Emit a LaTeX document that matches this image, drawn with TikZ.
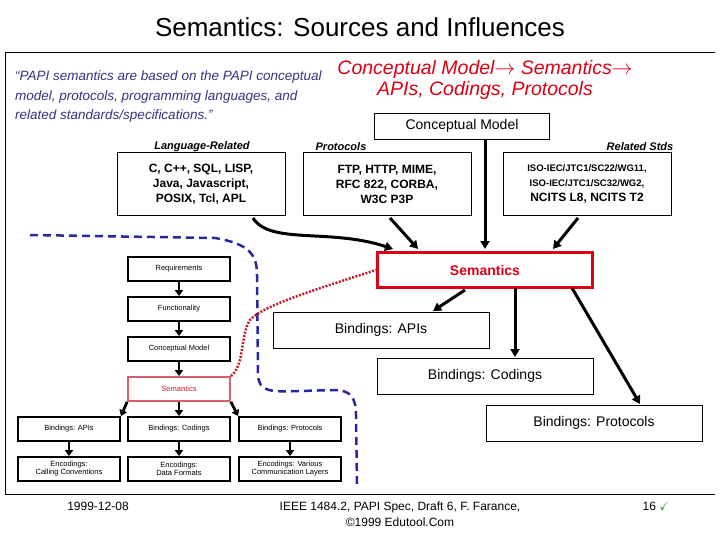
\documentclass[tikz,border=0pt]{standalone}
\usepackage{fontspec}
\setmainfont{Liberation Sans}
\usepackage{amssymb}
\usepackage{xcolor}
\usetikzlibrary{arrows.meta, positioning}
\definecolor{quoteblue}{RGB}{51,51,128}
\definecolor{semred}{RGB}{220,0,20}
\definecolor{dotred}{RGB}{190,30,45}
\definecolor{dashblue}{RGB}{40,40,160}
\definecolor{tickgreen}{RGB}{0,150,0}
\tikzset{
  mini/.style={draw, line width=1.8pt, minimum width=102pt, minimum height=24pt, inner sep=1pt, align=center, font=\fontsize{7.5}{8}\selectfont},
  bind/.style={draw, line width=0.8pt, minimum width=216pt, minimum height=36pt, font=\fontsize{14}{16}\selectfont},
  src/.style={draw, line width=0.8pt, minimum width=168pt, minimum height=63pt, align=center, font=\bfseries\fontsize{12}{15}\selectfont},
  hd/.style={font=\bfseries\itshape\fontsize{11}{12}\selectfont},
  bigarr/.style={-{Triangle[length=8pt,width=9pt]}, line width=3pt},
  smallarr/.style={-{Triangle[length=6pt,width=8pt]}, line width=2.8pt}
}
\begin{document}
\begin{tikzpicture}[x=1pt, y=-1pt]
\useasboundingbox (0,0) rectangle (720,540);
% frame
\draw[line width=0.8pt] (715,52) -- (5,52) -- (5,494) -- (715,494);
\node (title) at (360,27) {\fontsize{26}{28}\selectfont Semantics: Sources and Influences};
\node[anchor=north west, align=left, text=quoteblue, font=\itshape\fontsize{13.5}{19.5}\selectfont, inner sep=0pt] (quote) at (15,71)
  {``PAPI semantics are based on the PAPI conceptual\\model, protocols, programming languages, and\\related standards/specifications.''};
\node[text=semred, align=center, font=\itshape\fontsize{19.5}{21}\selectfont, inner sep=0pt] (chain) at (485,80)
  {Conceptual Model$\rightarrow$ Semantics$\rightarrow$\\APIs, Codings, Protocols};

% sources
\node[draw, line width=0.8pt, fill=white, minimum width=175pt, minimum height=26pt, font=\fontsize{14}{16}\selectfont] (cm) at (462,126) {Conceptual Model};
\node[hd] (hlang) at (202,147) {Language-Related};
\node[hd] (hproto) at (341,147) {Protocols};
\node[hd] (hstds) at (640,147) {Related Stds};
\node[src] (lang) at (201,184) {C, C++, SQL, LISP,\\Java, Javascript,\\POSIX, Tcl, APL};
\node[src] (proto) at (387,184) {FTP, HTTP, MIME,\\RFC 822, CORBA,\\W3C P3P};
\node[src, font=\bfseries\fontsize{9.5}{15}\selectfont] (stds) at (587,184) {ISO-IEC/JTC1/SC22/WG11,\\ISO-IEC/JTC1/SC32/WG2,\\{\fontsize{12}{15}\selectfont NCITS L8, NCITS T2}};

% semantics and bindings
\node[draw=semred, line width=3pt, minimum width=215pt, minimum height=35pt, text=semred, font=\bfseries\fontsize{14}{16}\selectfont] (sem) at (485,270) {Semantics};
\node[bind] (bapi) at (381,330) {Bindings: APIs};
\node[bind] (bcod) at (485,376) {Bindings: Codings};
\node[bind] (bpro) at (594,423) {Bindings: Protocols};

\draw[bigarr] (253,218) .. controls (270,245) and (330,228) .. (393,249);
\draw[bigarr] (390,218) -- (418,249);
\draw[bigarr] (485,139) -- (485,249);
\draw[bigarr] (578,218) -- (553,249);
\draw[bigarr] (465,290) -- (433,311);
\draw[bigarr] (515,288) -- (515,357);
\draw[bigarr] (572,288) -- (640,404);

% mini chain
\node[mini] (req) at (179,269) {Requirements};
\node[mini] (func) at (179,309) {Functionality};
\node[mini] (mcm) at (179,349) {Conceptual Model};
\node[mini, draw=dotred!70, text=dotred] (msem) at (179,389) {Semantics};
\node[mini] (mapi) at (69,429) {Bindings: APIs};
\node[mini] (mcod) at (179,429) {Bindings: Codings};
\node[mini] (mpro) at (290,429) {Bindings: Protocols};
\node[mini] (eapi) at (69,469) {Encodings:\\Calling Conventions};
\node[mini] (ecod) at (179,469) {Encodings:\\Data Formats};
\node[mini] (epro) at (290,469) {Encodings: Various\\Communication Layers};
\draw[smallarr] (req) -- (func);
\draw[smallarr] (func) -- (mcm);
\draw[smallarr] (mcm) -- (msem);
\draw[smallarr] (msem.south west) -- (mapi.north east);
\draw[smallarr] (msem) -- (mcod);
\draw[smallarr] (msem.south east) -- (mpro.north west);
\draw[smallarr] (mapi) -- (eapi);
\draw[smallarr] (mcod) -- (ecod);
\draw[smallarr] (mpro) -- (epro);

% boundaries
\draw[dashblue, line width=2.5pt, dash pattern=on 8pt off 5pt] (30,235) -- (215,238) .. controls (250,244) and (257,255) .. (257,275)
  -- (258,375) .. controls (259,392) and (270,392) .. (300,391) -- (335,390) .. controls (352,390) and (356,400) .. (356,415) -- (357,487);
\draw[dotred, line width=2.5pt, dash pattern=on 2pt off 1.5pt] (msem.north east) .. controls (245,365) and (240,335) .. (250,320) .. controls (262,305) and (330,285) .. (sem.west);

% footer
\node (date) at (98,506) {\fontsize{12}{14}\selectfont 1999-12-08};
\node[align=center, font=\fontsize{12}{16}\selectfont] (foot) at (400,514) {IEEE 1484.2, PAPI Spec, Draft 6, F. Farance,\\\textcopyright 1999 Edutool.Com};
\node (page) at (656,506) {\fontsize{12}{14}\selectfont 16 \textcolor{tickgreen}{$\checkmark$}};
\end{tikzpicture}
\end{document}
